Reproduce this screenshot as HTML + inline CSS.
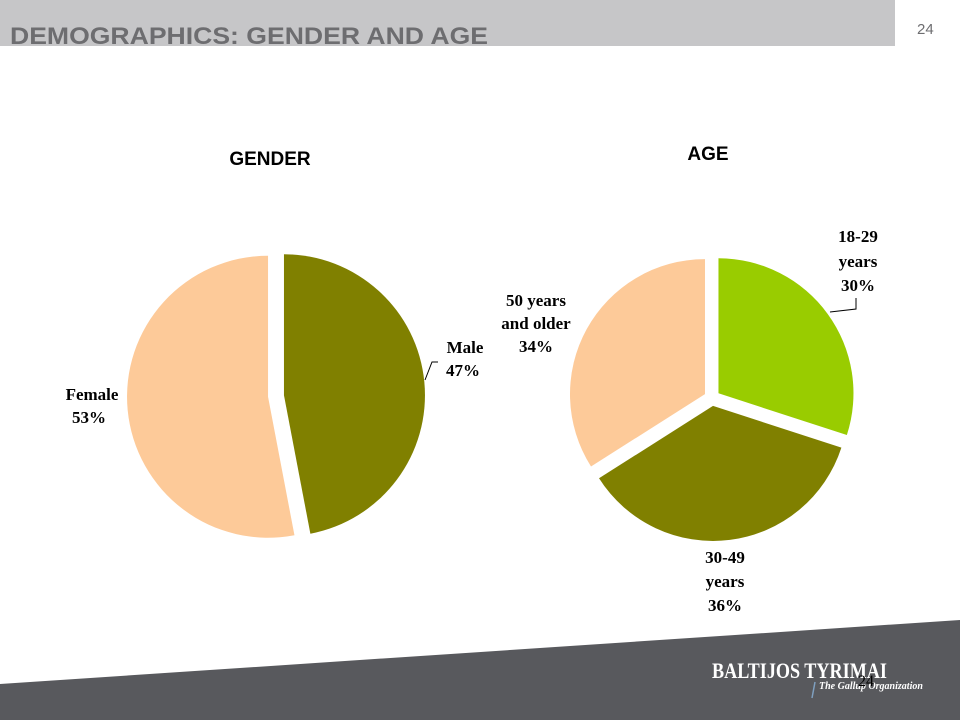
<!DOCTYPE html>
<html><head><meta charset="utf-8"><style>
body{margin:0;width:960px;height:720px;overflow:hidden;background:#fff;font-family:"Liberation Sans",sans-serif;}
svg{display:block}
</style></head><body>
<svg width="960" height="720">
<rect x="0" y="0" width="895" height="46" fill="#c6c6c8"/>
<text x="10" y="44" font-size="24" font-weight="bold" fill="#6d6d70" font-family="Liberation Sans Narrow, Liberation Sans, sans-serif" textLength="478" lengthAdjust="spacingAndGlyphs">DEMOGRAPHICS: GENDER AND AGE</text>
<text x="917" y="34" font-size="15" fill="#6d6d70">24</text>
<text x="270" y="165" font-size="19" font-weight="bold" text-anchor="middle" fill="#000">GENDER</text>
<text x="708" y="160" font-size="19" font-weight="bold" text-anchor="middle" fill="#000">AGE</text>
<g id="gender"></g>
<g id="age"></g>
<g font-family="Liberation Serif, serif" font-weight="bold" font-size="17" fill="#000" text-anchor="middle">
<text x="92" y="400">Female</text>
<text x="89" y="423">53%</text>
<text x="465" y="353">Male</text>
<text x="463" y="376">47%</text>
<text x="858" y="242">18-29</text>
<text x="858" y="267">years</text>
<text x="858" y="291">30%</text>
<text x="536" y="306">50 years</text>
<text x="536" y="329">and older</text>
<text x="536" y="352">34%</text>
<text x="725" y="563">30-49</text>
<text x="725" y="587">years</text>
<text x="725" y="611">36%</text>
</g>
<polyline points="425,380 432,362 438,362" fill="none" stroke="#000" stroke-width="1"/>
<polyline points="830,312 856,309 856,298" fill="none" stroke="#000" stroke-width="1"/>
<polygon points="0,684 960,620 960,720 0,720" fill="#58595d"/>
<text x="712" y="678" font-family="Liberation Serif, serif" font-weight="bold" font-size="22" fill="#fff" textLength="175" lengthAdjust="spacingAndGlyphs">BALTIJOS TYRIMAI</text>
<line x1="815" y1="682" x2="812" y2="698" stroke="#7fa0c0" stroke-width="1.5"/>
<text x="819" y="689" font-family="Liberation Serif, serif" font-style="italic" font-weight="bold" font-size="10" fill="#fff">The Gallup Organization</text>
<text x="858" y="686" font-family="Liberation Serif, serif" font-size="16" fill="#000">24</text>
</svg>
<script>
const genderCats=["Male","Female"];
const genderVals=[47,53];
const genderColors=["#808000","#fdca99"];
const ageCats=["18-29 years","30-49 years","50 years and older"];
const ageVals=[30,36,34];
const ageColors=["#99cc00","#808000","#fdca99"];
function drawPie(gid,vals,colors,cats,cx,cy,r,off){
  const g=document.getElementById(gid);
  const tot=vals.reduce((a,b)=>a+b,0);
  let a0=0;
  vals.forEach((v,i)=>{
    const a1=a0+v/tot*2*Math.PI;
    const m=(a0+a1)/2;
    const ox=cx+off*Math.sin(m), oy=cy-off*Math.cos(m);
    const x0=ox+r*Math.sin(a0), y0=oy-r*Math.cos(a0);
    const x1=ox+r*Math.sin(a1), y1=oy-r*Math.cos(a1);
    const large=(a1-a0)>Math.PI?1:0;
    const p=document.createElementNS("http://www.w3.org/2000/svg","path");
    p.setAttribute("d",`M${ox},${oy} L${x0},${y0} A${r},${r} 0 ${large} 1 ${x1},${y1} Z`);
    p.setAttribute("fill",colors[i]);
    
    
    g.appendChild(p);
    a0=a1;
  });
}
drawPie("gender",genderVals,genderColors,genderCats,276,396,141,8);
drawPie("age",ageVals,ageColors,ageCats,712,398,135,8);
</script>
</body></html>
